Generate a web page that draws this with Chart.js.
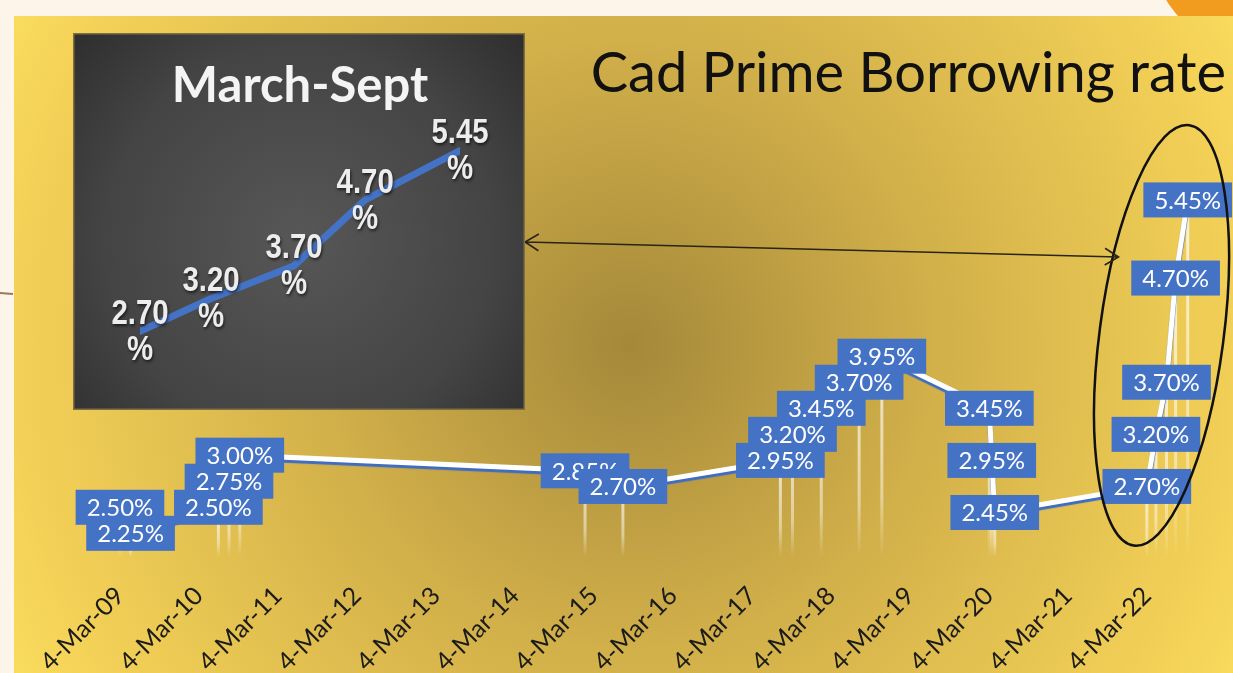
<!DOCTYPE html>
<html>
<head>
<meta charset="utf-8">
<script src="https://cdn.jsdelivr.net/npm/chart.js@4.4.0/dist/chart.umd.min.js"></script>
<style>
  html, body { margin: 0; padding: 0; background: #fef5ea; }
  #wrap { position: relative; width: 1233px; height: 673px; overflow: hidden; }
  #main { position: absolute; left: 0; top: 0; }
  #inset { position: absolute; left: 73px; top: 33px; }
</style>
</head>
<body>
<div id="wrap">
  <canvas id="main" width="1233" height="673"></canvas>
  <canvas id="inset" width="452" height="377"></canvas>
</div>
<script>
// prime rate changes (main chart)
const rateDates = ['2009-03-04', '2009-04-22', '2010-06-02', '2010-07-21', '2010-09-09',
  '2015-01-22', '2015-07-16', '2017-07-13', '2017-09-07', '2018-01-18', '2018-07-12',
  '2018-10-25', '2020-03-05', '2020-03-16', '2020-03-30', '2022-03-03', '2022-04-14',
  '2022-06-02', '2022-07-14', '2022-09-08'];
const rateValues = [2.50, 2.25, 2.50, 2.75, 3.00, 2.85, 2.70, 2.95, 3.20, 3.45, 3.70,
  3.95, 3.45, 2.95, 2.45, 2.70, 3.20, 3.70, 4.70, 5.45];

const tickDates = ['2009-03-04', '2010-03-04', '2011-03-04', '2012-03-04', '2013-03-04',
  '2014-03-04', '2015-03-04', '2016-03-04', '2017-03-04', '2018-03-04', '2019-03-04',
  '2020-03-04', '2021-03-04', '2022-03-04'];
const tickLabels = ['4-Mar-09', '4-Mar-10', '4-Mar-11', '4-Mar-12', '4-Mar-13', '4-Mar-14',
  '4-Mar-15', '4-Mar-16', '4-Mar-17', '4-Mar-18', '4-Mar-19', '4-Mar-20', '4-Mar-21', '4-Mar-22'];

// inset: March-Sept 2022
const insetDates = ['2022-03-03', '2022-04-14', '2022-06-02', '2022-07-14', '2022-09-08'];
const insetValues = [2.70, 3.20, 3.70, 4.70, 5.45];

const toTime = s => Date.parse(s + 'T00:00:00Z');

const goldBackground = {
  id: 'goldBackground',
  beforeDraw(chart) {
    const ctx = chart.ctx;
    const w = chart.width, h = chart.height;
    ctx.save();
    ctx.fillStyle = '#fef5ea';
    ctx.fillRect(0, 0, w, h);
    // orange shape peeking at the top right
    ctx.fillStyle = '#f29c1f';
    ctx.beginPath();
    ctx.arc(1262, -58, 112, 0, Math.PI * 2);
    ctx.fill();
    const g = ctx.createRadialGradient(630, 345, 0, 630, 345, 700);
    g.addColorStop(0, '#a5893a');
    g.addColorStop(0.44, '#d2b04a');
    g.addColorStop(0.88, '#f3d157');
    g.addColorStop(1, '#fadc5d');
    ctx.fillStyle = g;
    ctx.fillRect(14, 16, w - 14, h - 16);
    // little arrow in the margin
    ctx.strokeStyle = '#9c7a57';
    ctx.lineWidth = 2;
    ctx.beginPath();
    ctx.moveTo(0, 293);
    ctx.lineTo(13, 294);
    ctx.stroke();
    ctx.restore();
  }
};

const dropLines = {
  id: 'dropLines',
  beforeDatasetsDraw(chart) {
    const ctx = chart.ctx;
    const bottom = chart.chartArea.bottom - 18;
    ctx.save();
    chart.getDatasetMeta(0).data.forEach(pt => {
      const g = ctx.createLinearGradient(0, pt.y, 0, bottom);
      g.addColorStop(0, 'rgba(255,255,255,0.75)');
      g.addColorStop(0.7, 'rgba(255,255,255,0.45)');
      g.addColorStop(1, 'rgba(255,255,255,0)');
      ctx.strokeStyle = g;
      ctx.lineWidth = 3;
      ctx.beginPath();
      ctx.moveTo(pt.x, pt.y);
      ctx.lineTo(pt.x, bottom);
      ctx.stroke();
    });
    ctx.restore();
  }
};

const lineShadow = {
  id: 'lineShadow',
  beforeDatasetDraw(chart) {
    const ctx = chart.ctx;
    ctx.save();
    ctx.shadowColor = '#3f6cc0';
    ctx.shadowOffsetY = 3;
    ctx.shadowBlur = 1;
  },
  afterDatasetDraw(chart) {
    chart.ctx.restore();
  }
};

const boxLabels = {
  id: 'boxLabels',
  afterDatasetsDraw(chart) {
    const ctx = chart.ctx;
    ctx.save();
    ctx.font = '24px Lato';
    ctx.textAlign = 'center';
    ctx.textBaseline = 'middle';
    chart.getDatasetMeta(0).data.forEach((pt, i) => {
      const text = rateValues[i].toFixed(2) + '%';
      const bw = ctx.measureText(text).width + 22;
      const bh = 35;
      ctx.fillStyle = '#4472c4';
      ctx.fillRect(pt.x - bw / 2, pt.y - bh / 2, bw, bh);
      ctx.fillStyle = '#ffffff';
      ctx.fillText(text, pt.x, pt.y + 1);
    });
    ctx.restore();
  }
};

const annotations = {
  id: 'annotations',
  afterDraw(chart) {
    const ctx = chart.ctx;
    const xs = chart.scales.x, ys = chart.scales.y;
    ctx.save();
    // ellipse round the 2022 hikes
    const cx = xs.getPixelForValue(toTime('2022-05-10'));
    const cy = ys.getPixelForValue(4.15);
    ctx.strokeStyle = '#111';
    ctx.lineWidth = 2.5;
    ctx.beginPath();
    ctx.ellipse(cx, cy, 62, 212, 7.5 * Math.PI / 180, 0, Math.PI * 2);
    ctx.stroke();
    // double arrow from the inset to the ellipse
    const x1 = 525, y1 = 242, x2 = cx - 43, y2 = 257;
    const ang = Math.atan2(y2 - y1, x2 - x1);
    ctx.strokeStyle = '#2a2418';
    ctx.lineWidth = 1.6;
    ctx.beginPath();
    ctx.moveTo(x1, y1);
    ctx.lineTo(x2, y2);
    [[x1, y1, ang], [x2, y2, ang + Math.PI]].forEach(([x, y, a]) => {
      ctx.moveTo(x + 16 * Math.cos(a - 0.55), y + 16 * Math.sin(a - 0.55));
      ctx.lineTo(x, y);
      ctx.lineTo(x + 16 * Math.cos(a + 0.55), y + 16 * Math.sin(a + 0.55));
    });
    ctx.stroke();
    ctx.restore();
  }
};

new Chart(document.getElementById('main'), {
  type: 'line',
  data: {
    datasets: [{
      data: rateDates.map((d, i) => ({ x: toTime(d), y: rateValues[i] })),
      borderColor: '#ffffff',
      borderWidth: 5,
      pointRadius: 0,
      tension: 0
    }]
  },
  options: {
    responsive: false,
    animation: false,
    layout: { padding: { left: 41, right: 7, top: 16, bottom: 0 } },
    plugins: {
      legend: { display: false },
      tooltip: { enabled: false },
      title: {
        display: true,
        text: 'Cad Prime Borrowing rate',
        align: 'end',
        color: '#111111',
        font: { family: 'Lato', size: 56, weight: 'normal' },
        padding: { top: 24, bottom: 0 }
      }
    },
    scales: {
      x: {
        type: 'linear',
        min: toTime('2008-03-04'),
        max: toTime('2023-03-04'),
        grid: { display: false, drawTicks: false },
        border: { display: false },
        afterBuildTicks: s => { s.ticks = tickDates.map(d => ({ value: toTime(d) })); },
        afterFit: s => { s.height = 98; },
        ticks: {
          autoSkip: false,
          maxRotation: 45,
          minRotation: 45,
          padding: 6,
          color: '#1b1b1b',
          font: { family: 'Lato', size: 25 },
          callback: (v, i) => tickLabels[i]
        }
      },
      y: { display: false, min: 1.85, max: 6.34 }
    }
  },
  plugins: [goldBackground, dropLines, lineShadow, boxLabels, annotations]
});

const darkBackground = {
  id: 'darkBackground',
  beforeDraw(chart) {
    const ctx = chart.ctx;
    const w = chart.width, h = chart.height;
    ctx.save();
    const g = ctx.createRadialGradient(w * 0.5, h * 0.55, 0, w * 0.5, h * 0.55, w * 0.72);
    g.addColorStop(0, '#575757');
    g.addColorStop(0.6, '#444444');
    g.addColorStop(1, '#2a2a2a');
    ctx.fillStyle = g;
    ctx.fillRect(0, 0, w, h);
    ctx.strokeStyle = '#7d6f42';
    ctx.lineWidth = 1.5;
    ctx.strokeRect(0.75, 0.75, w - 1.5, h - 1.5);
    ctx.restore();
  }
};

const insetLabels = {
  id: 'insetLabels',
  afterDatasetsDraw(chart) {
    const ctx = chart.ctx;
    ctx.save();
    ctx.font = 'bold 35px "Liberation Sans", Arial';
    ctx.textAlign = 'center';
    ctx.textBaseline = 'middle';
    ctx.fillStyle = '#ededed';
    ctx.shadowColor = 'rgba(0,0,0,0.6)';
    ctx.shadowBlur = 3;
    ctx.shadowOffsetX = 1;
    ctx.shadowOffsetY = 2;
    chart.getDatasetMeta(0).data.forEach((pt, i) => {
      // narrow the lettering a little, as in the original
      ctx.save();
      ctx.translate(pt.x, pt.y);
      ctx.scale(0.84, 1);
      ctx.fillText(insetValues[i].toFixed(2), 0, -17);
      ctx.fillText('%', 0, 19);
      ctx.restore();
    });
    ctx.restore();
  }
};

new Chart(document.getElementById('inset'), {
  type: 'line',
  data: {
    datasets: [{
      data: insetDates.map((d, i) => ({ x: toTime(d), y: insetValues[i] })),
      borderColor: '#4472c4',
      borderWidth: 7,
      borderCapStyle: 'round',
      borderJoinStyle: 'round',
      pointRadius: 0,
      tension: 0
    }]
  },
  options: {
    responsive: false,
    animation: false,
    layout: { padding: { left: 67, right: 65, top: 0, bottom: 49 } },
    plugins: {
      legend: { display: false },
      tooltip: { enabled: false },
      title: {
        display: true,
        text: 'March-Sept',
        color: '#f4f4f4',
        font: { family: 'Lato', size: 49, weight: 'bold' },
        padding: { top: 24, bottom: 15 }
      }
    },
    scales: {
      x: { type: 'linear', display: false, min: toTime('2022-03-03'), max: toTime('2022-09-08') },
      y: { display: false, min: 2.25, max: 5.75 }
    }
  },
  plugins: [darkBackground, insetLabels]
});
</script>
</body>
</html>
